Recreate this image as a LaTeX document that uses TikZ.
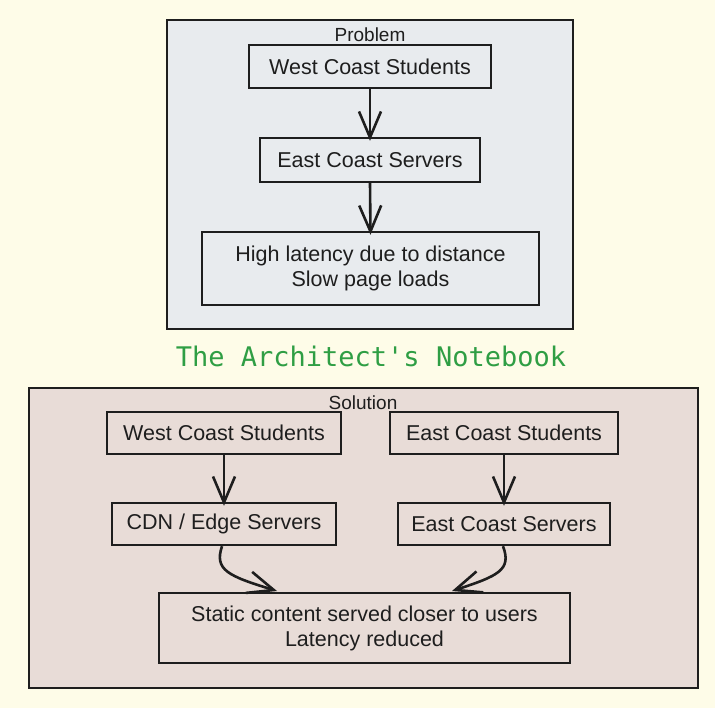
\documentclass[tikz,border=0pt]{standalone}
\usepackage{fontspec}
\setmainfont{Liberation Sans}
\newfontfamily\titlefont{DejaVu Sans Mono}
\usetikzlibrary{arrows.meta}
\definecolor{bgcol}{HTML}{FEFCE8}
\definecolor{probfill}{HTML}{E8EBEE}
\definecolor{solfill}{HTML}{E8DCD7}
\definecolor{ink}{HTML}{1E1E1E}
\definecolor{titlegreen}{HTML}{2F9E44}
\tikzset{
  frame/.style={draw=ink, line width=2pt, inner sep=0pt},
  boxnode/.style={draw=ink, line width=2.4pt, inner sep=0pt, align=center, text=ink,
    font=\fontsize{21.5}{25}\selectfont},
  framelabel/.style={text=ink, inner sep=0pt, font=\fontsize{19}{22}\selectfont},
  flow/.style={draw=ink, line width=2.6pt, -{Straight Barb[length=26pt,width=22pt,line width=2.6pt]}},
}
\begin{document}
\begin{tikzpicture}[x=1pt,y=-1pt]
\fill[bgcol] (0,0) rectangle (715,708);
\useasboundingbox (0,0) rectangle (715,708);
% Problem frame
\node[frame, fill=probfill, minimum width=406pt, minimum height=309pt] (probframe) at (370,174.5) {};
\node[framelabel] (problabel) at (370,35) {Problem};
\node[boxnode, minimum width=242pt, minimum height=43pt] (wcs1) at (370,66.5) {West Coast Students};
\node[boxnode, minimum width=220pt, minimum height=44pt] (ecs1) at (370,160) {East Coast Servers};
\node[boxnode, minimum width=337pt, minimum height=73pt] (hl) at (370.5,268.5) {High latency due to distance\\Slow page loads};
\draw[flow] (wcs1.south) -- ([yshift=-4pt]ecs1.north);
\draw[flow] (ecs1.south) -- ([yshift=-4pt]hl.north);
% Title
\node[text=titlegreen, inner sep=0pt, font=\titlefont\fontsize{27}{30}\selectfont] (title) at (371,356) {The Architect's Notebook};
% Solution frame
\node[frame, fill=solfill, minimum width=669pt, minimum height=300pt] (solframe) at (363.5,538) {};
\node[framelabel] (sollabel) at (363,403) {Solution};
\node[boxnode, minimum width=234pt, minimum height=42pt] (wcs2) at (224,433) {West Coast Students};
\node[boxnode, minimum width=228pt, minimum height=42pt] (ecst2) at (504,433) {East Coast Students};
\node[boxnode, minimum width=224pt, minimum height=42pt] (cdn) at (224,524) {CDN / Edge Servers};
\node[boxnode, minimum width=212pt, minimum height=42pt] (ecs2) at (504,524) {East Coast Servers};
\node[boxnode, minimum width=411pt, minimum height=70pt] (static) at (364.5,628) {Static content served closer to users\\Latency reduced};
\coordinate (inL) at (277,591);
\coordinate (inR) at (452,591);
\draw[flow] (wcs2.south) -- ([yshift=-4pt]cdn.north);
\draw[flow] (ecst2.south) -- ([yshift=-4pt]ecs2.north);
\draw[flow] ([xshift=-2pt]cdn.south) .. controls (214,570) and (228,576) .. (inL);
\draw[flow] ([xshift=-1pt]ecs2.south) .. controls (512,570) and (498,576) .. (inR);
\end{tikzpicture}
\end{document}
